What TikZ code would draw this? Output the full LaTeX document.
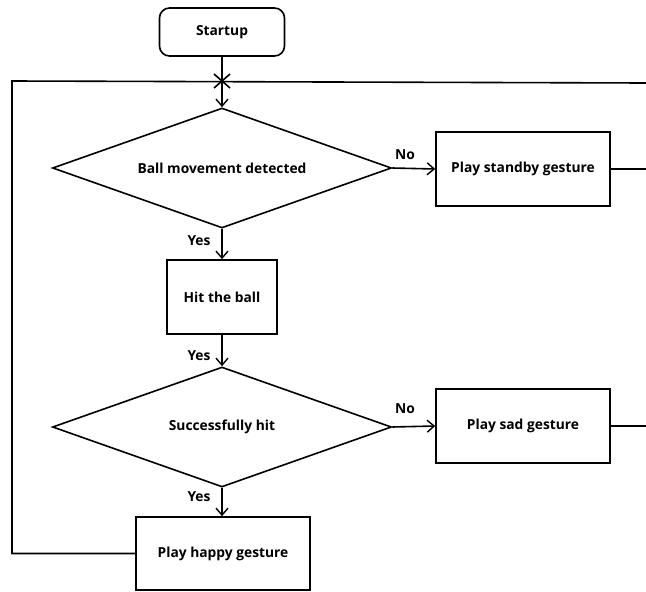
\documentclass[tikz,border=0pt]{standalone}
\usepackage{fontspec}
\setmainfont{Open Sans}
\usetikzlibrary{shapes.geometric,arrows.meta}
\begin{document}
\begin{tikzpicture}[x=1pt,y=-1pt,
  every node/.style={font=\fontsize{13.8}{16}\selectfont\bfseries},
  box/.style={draw,line width=1.6pt,rectangle,inner sep=0pt,fill=white},
  dec/.style={draw,line width=1.6pt,diamond,inner sep=0pt,aspect=2.83,minimum width=339pt,minimum height=120pt},
  conn/.style={line width=1.6pt},
  arr/.style={conn,-{Straight Barb[length=7pt,width=12pt,line width=1.4pt]}},
  lbl/.style={inner sep=0pt}]
\useasboundingbox (0,0) rectangle (646,592);
\node[box,rounded corners=10pt,minimum width=125pt,minimum height=48pt] (start) at (222,32) {Startup};
\node[dec] (d1) at (222,168) {Ball movement detected};
\node[box,minimum width=174pt,minimum height=74pt] (standby) at (523,169) {Play standby gesture};
\node[box,minimum width=110pt,minimum height=74pt] (hit) at (222,297) {Hit the ball};
\node[dec] (d2) at (222,427) {Successfully hit};
\node[box,minimum width=174pt,minimum height=74pt] (sad) at (523,426) {Play sad gesture};
\node[box,minimum width=174pt,minimum height=73pt] (happy) at (223,553.5) {Play happy gesture};
\coordinate (j) at (222,81);
\coordinate (tl) at (12,81);
\coordinate (tr) at (646,83);
\coordinate (redge) at (646,0);
\node[lbl] (no1) at (405,155) {No};
\node[lbl] (no2) at (405,409) {No};
\node[lbl] (y1) at (199,241) {Yes};
\node[lbl] (y2) at (199,356) {Yes};
\node[lbl] (y3) at (199,497) {Yes};
\draw[arr] (start.south) -- (d1.north);
\draw[conn] ([shift={(-8,-7)}]j) -- ([shift={(8,7)}]j);
\draw[conn] ([shift={(-8,7)}]j) -- ([shift={(8,-7)}]j);
\draw[conn] (happy.west) -| (tl) -- (tr);
\draw[arr] (d1.east) -- (standby.west);
\draw[conn] (standby.east) -- (standby.east -| redge);
\draw[arr] (d1.south) -- (hit.north);
\draw[arr] (hit.south) -- (d2.north);
\draw[arr] (d2.east) -- (sad.west);
\draw[conn] (sad.east) -- (sad.east -| redge);
\draw[arr] (d2.south) -- (d2.south |- happy.north);
\end{tikzpicture}
\end{document}
